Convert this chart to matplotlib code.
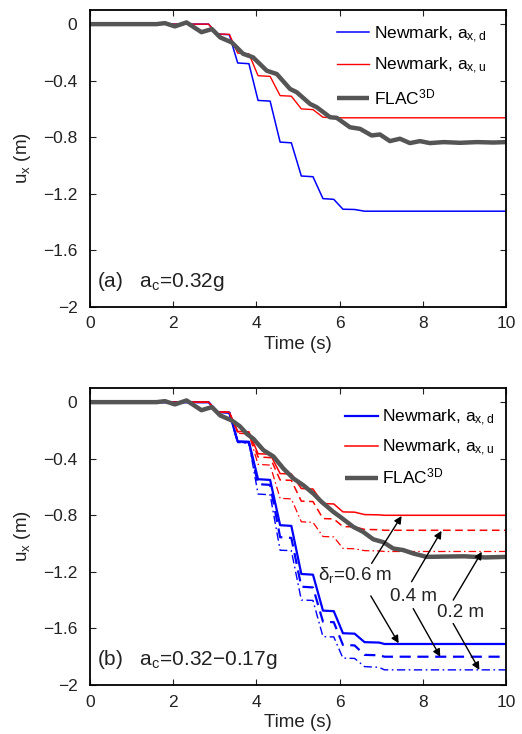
import matplotlib
matplotlib.use('Agg')
import matplotlib.pyplot as plt

plt.rcParams['font.family'] = ['Liberation Sans', 'DejaVu Sans']
plt.rcParams['mathtext.fontset'] = 'custom'
plt.rcParams['mathtext.rm'] = 'Liberation Sans'
plt.rcParams['mathtext.it'] = 'Liberation Sans:italic'
plt.rcParams['mathtext.bf'] = 'Liberation Sans:bold'

# ---------------- data ----------------
# Newmark curves: common knot times (plateau start / end)
step_t = [0, 2.85, 3.06, 3.35, 3.55, 3.82, 4.04, 4.33, 4.57, 4.84, 5.08, 5.36,
          5.6, 5.86, 6.08, 6.36, 6.6, 6.95, 7.08, 10]

# panel (a)
a_blue = [0, 0, -0.07, -0.075, -0.275, -0.28, -0.54, -0.545, -0.835, -0.84,
          -1.075, -1.08, -1.235, -1.24, -1.31, -1.312, -1.324, -1.324, -1.324, -1.324]
a_red = [0, 0, -0.07, -0.072, -0.205, -0.21, -0.365, -0.37, -0.506, -0.51,
         -0.6, -0.605, -0.659, -0.663, -0.663, -0.663, -0.663, -0.663, -0.663, -0.663]
a_flac_t = [0, 1.6, 1.8, 2.04, 2.32, 2.68, 2.93, 3.13, 3.41, 3.68, 3.92, 4.25, 4.49,
            4.81, 4.97, 5.29, 5.45, 5.77, 5.93, 6.25, 6.49, 6.77, 6.97, 7.21, 7.45,
            7.69, 7.93, 8.17, 8.5, 8.9, 9.3, 9.7, 10]
a_flac = [0, 0, 0.007, -0.016, 0.012, -0.057, -0.035, -0.094, -0.13, -0.21, -0.235,
          -0.33, -0.353, -0.459, -0.482, -0.565, -0.588, -0.659, -0.663, -0.73, -0.741,
          -0.788, -0.781, -0.828, -0.811, -0.842, -0.828, -0.842, -0.835, -0.84,
          -0.835, -0.838, -0.835]

# panel (b): delta_r = 0.6, 0.4, 0.2 m
b_blue_06 = [0, 0, -0.07, -0.075, -0.277, -0.28, -0.545, -0.55, -0.87, -0.875,
             -1.215, -1.22, -1.474, -1.478, -1.634, -1.637, -1.697, -1.70, -1.71, -1.71]
b_blue_04 = [0, 0, -0.07, -0.075, -0.28, -0.285, -0.58, -0.585, -0.955, -0.96,
             -1.305, -1.31, -1.552, -1.556, -1.717, -1.72, -1.787, -1.79, -1.80, -1.80]
b_blue_02 = [0, 0, -0.07, -0.075, -0.285, -0.29, -0.65, -0.655, -1.047, -1.05,
             -1.399, -1.402, -1.658, -1.66, -1.81, -1.812, -1.87, -1.875, -1.893, -1.893]
b_red_06 = [0, 0, -0.07, -0.072, -0.207, -0.21, -0.365, -0.368, -0.505, -0.508,
            -0.611, -0.614, -0.717, -0.72, -0.776, -0.778, -0.795, -0.797, -0.80, -0.80]
b_red_04 = [0, 0, -0.07, -0.072, -0.21, -0.215, -0.388, -0.392, -0.55, -0.553,
            -0.70, -0.703, -0.823, -0.826, -0.88, -0.882, -0.90, -0.902, -0.906, -0.906]
b_red_02 = [0, 0, -0.07, -0.072, -0.22, -0.225, -0.44, -0.445, -0.68, -0.684,
            -0.846, -0.85, -0.95, -0.953, -1.034, -1.037, -1.05, -1.052, -1.056, -1.056]
b_flac_t = [0, 1.6, 1.8, 2.04, 2.32, 2.68, 2.93, 3.13, 3.41, 3.6, 3.77, 3.93, 4.17,
            4.41, 4.65, 4.89, 5.13, 5.37, 5.57, 5.85, 6.01, 6.33, 6.57, 6.81, 7.05,
            7.29, 7.53, 7.77, 8.09, 8.5, 9.0, 9.5, 10]
b_flac = [0, 0, 0.007, -0.016, 0.012, -0.057, -0.035, -0.094, -0.13, -0.17, -0.224,
          -0.26, -0.34, -0.384, -0.47, -0.54, -0.588, -0.647, -0.706, -0.776, -0.81,
          -0.882, -0.918, -0.97, -0.99, -1.035, -1.046, -1.07, -1.094, -1.092, -1.09,
          -1.098, -1.094]

xticks = [0, 2, 4, 6, 8, 10]
yticks = [0, -0.4, -0.8, -1.2, -1.6, -2]
ytick_labels = ['0', '\u22120.4', '\u22120.8', '\u22121.2', '\u22121.6', '\u22122']

labels = [r'Newmark, a$_{\mathregular{x,d}}$', r'Newmark, a$_{\mathregular{x,u}}$',
          r'FLAC$^{\mathregular{3D}}$']

# annotation arrows (tail -> tip) in panel (b)
arrows = [((6.77, -1.14), (7.49, -0.805)), ((6.75, -1.37), (7.42, -1.705)),
          ((7.73, -1.27), (8.45, -0.91)), ((7.77, -1.46), (8.42, -1.80)),
          ((8.73, -1.40), (9.42, -1.058)), ((8.73, -1.565), (9.36, -1.893))]

# ---------------- figure ----------------
W, H = 522, 734
fig = plt.figure(figsize=(W / 100, H / 100), dpi=100)
ax1 = fig.add_axes([90 / W, 1 - 306.7 / H, 416 / W, 296.7 / H])
ax2 = fig.add_axes([90 / W, 1 - 685 / H, 416 / W, 297 / H])

GREY = '#555555'
TXT = '#222222'
dash = (0, (5, 3))
dashdot = (0, (6, 2.5, 1.2, 2.5))


def style(ax):
    ax.set_xlim(0, 10)
    ax.set_ylim(-2, 0.1)
    ax.set_xticks(xticks)
    ax.set_xticklabels([str(v) for v in xticks])
    ax.set_yticks(yticks)
    ax.set_yticklabels(ytick_labels)
    ax.tick_params(direction='in', top=True, right=True, length=4, width=0.8,
                   labelsize=12.5, colors=TXT)
    ax.tick_params(axis='x', pad=7)
    ax.tick_params(axis='y', pad=9)
    for s in ax.spines.values():
        s.set_linewidth(1.3)
        s.set_color('black')
    ax.set_xlabel('Time (s)', fontsize=13.5, color=TXT, labelpad=3)
    ax.set_ylabel(r'u$_{\mathregular{x}}$ (m)', fontsize=13.5, color=TXT, labelpad=7)


# panel (a)
l1, = ax1.plot(step_t, a_blue, color='#0000ff', lw=1.1)
l2, = ax1.plot(step_t, a_red, color='#ff0000', lw=1.0)
l3, = ax1.plot(a_flac_t, a_flac, color=GREY, lw=3.2, solid_capstyle='butt')
style(ax1)
ax1.legend([l1, l2, l3], labels, loc='upper left', bbox_to_anchor=(0.594, 0.952),
           frameon=False, fontsize=12.5, handlelength=1.85, handletextpad=0.25,
           labelspacing=0.64, borderpad=0, borderaxespad=0)
ax1.text(0.17, -1.825, r'(a)   a$_{\mathregular{c}}$=0.32g', fontsize=15,
         va='center', ha='left', color=TXT)

# panel (b)
m1, = ax2.plot(step_t, b_blue_06, color='#0000ff', lw=1.6)
ax2.plot(step_t, b_blue_04, color='#0000ff', lw=1.6, ls=dash)
ax2.plot(step_t, b_blue_02, color='#0000ff', lw=1.0, ls=dashdot)
m2, = ax2.plot(step_t, b_red_06, color='#ff0000', lw=1.1)
ax2.plot(step_t, b_red_04, color='#ff0000', lw=1.1, ls=dash)
ax2.plot(step_t, b_red_02, color='#ff0000', lw=0.9, ls=dashdot)
m3, = ax2.plot(b_flac_t, b_flac, color=GREY, lw=3.2, solid_capstyle='butt')
style(ax2)
ax2.legend([m1, m2, m3], labels, loc='upper left', bbox_to_anchor=(0.614, 0.932),
           frameon=False, fontsize=12.5, handlelength=1.85, handletextpad=0.25,
           labelspacing=0.52, borderpad=0, borderaxespad=0)
ax2.text(0.17, -1.822, r'(b)   a$_{\mathregular{c}}$=0.32$-$0.17g', fontsize=15,
         va='center', ha='left', color=TXT)
ax2.text(5.49, -1.22, r'δ$_{\mathregular{r}}$=0.6 m', fontsize=13.5, va='center',
         ha='left', color=TXT)
ax2.text(7.21, -1.376, '0.4 m', fontsize=13.5, va='center', ha='left', color=TXT)
ax2.text(8.33, -1.487, '0.2 m', fontsize=13.5, va='center', ha='left', color=TXT)
for tail, tip in arrows:
    ax2.annotate('', xy=tip, xytext=tail,
                 arrowprops=dict(arrowstyle='-|>', color='black', lw=1.0,
                                 mutation_scale=11, shrinkA=0, shrinkB=0))

fig.savefig('out.png', dpi=100)
